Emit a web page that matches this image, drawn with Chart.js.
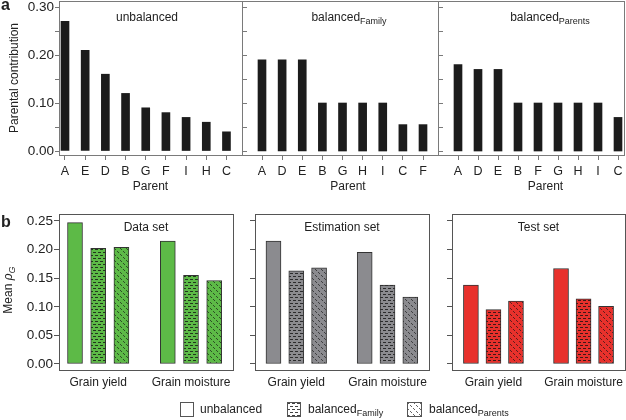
<!DOCTYPE html>
<html>
<head>
<meta charset="utf-8">
<script src="https://cdn.jsdelivr.net/npm/chart.js@4.4.1/dist/chart.umd.min.js"></script>
<style>
  body { margin: 0; background: #fff; width: 626px; height: 420px; overflow: hidden; position: relative;
         font-family: "Liberation Sans", Arial, Helvetica, sans-serif; color: #222; }
  canvas { position: absolute; left: 0; }
  .tag { position: absolute; font-weight: bold; font-size: 16px; line-height: 15px; }
  .ytitle { position: absolute; font-size: 12px; white-space: nowrap; transform: translate(-50%, -50%) rotate(-90deg); }
  .ytitle sub, .legend sub { font-size: 9px; vertical-align: -3px; }
  .legend { position: absolute; font-size: 12px; line-height: 15px; white-space: nowrap; }
  .legend canvas { position: absolute; left: 0; top: 0; }
</style>
</head>
<body>
<canvas id="t1" width="626" height="200" style="top:0"></canvas>
<canvas id="t2" width="626" height="200" style="top:0"></canvas>
<canvas id="t3" width="626" height="200" style="top:0"></canvas>
<canvas id="b1" width="626" height="200" style="top:200px"></canvas>
<canvas id="b2" width="626" height="200" style="top:200px"></canvas>
<canvas id="b3" width="626" height="200" style="top:200px"></canvas>

<div class="tag" style="left:1px;top:-3px">a</div>
<div class="tag" style="left:1px;top:214px">b</div>
<div class="ytitle" style="left:9px;top:290px">Mean <i>ρ</i><sub><i>G</i></sub></div>

<div class="legend" style="left:180px;top:402px"><canvas id="lg1" width="14" height="15"></canvas><span style="margin-left:20px">unbalanced</span></div>
<div class="legend" style="left:287px;top:402px"><canvas id="lg2" width="14" height="15"></canvas><span style="margin-left:21px">balanced<sub>Family</sub></span></div>
<div class="legend" style="left:407px;top:402px"><canvas id="lg3" width="15" height="15"></canvas><span style="margin-left:22px">balanced<sub>Parents</sub></span></div>

<script>
// panel a: parental contributions
const parentsUnbalanced = ["A", "E", "D", "B", "G", "F", "I", "H", "C"];
const contribUnbalanced = [0.27, 0.21, 0.16, 0.12, 0.09, 0.08, 0.07, 0.06, 0.04];
const parentsFamily = ["A", "D", "E", "B", "G", "H", "I", "C", "F"];
const contribFamily = [0.19, 0.19, 0.19, 0.10, 0.10, 0.10, 0.10, 0.055, 0.055];
const parentsParents = ["A", "D", "E", "B", "F", "G", "H", "I", "C"];
const contribParents = [0.18, 0.17, 0.17, 0.10, 0.10, 0.10, 0.10, 0.10, 0.07];
const contribTicks = [0, 0.05, 0.10, 0.15, 0.20, 0.25, 0.30];

// panel b: mean prediction accuracy
const traits = ["Grain yield", "Grain moisture"];
const dataSetUnbalanced = [0.247, 0.215];
const dataSetFamily = [0.202, 0.155];
const dataSetParents = [0.204, 0.146];
const estimationUnbalanced = [0.215, 0.195];
const estimationFamily = [0.163, 0.138];
const estimationParents = [0.168, 0.117];
const testUnbalanced = [0.138, 0.167];
const testFamily = [0.095, 0.114];
const testParents = [0.110, 0.101];
const meanTicks = [0, 0.05, 0.10, 0.15, 0.20, 0.25];

Chart.defaults.font.family = '"Liberation Sans", Arial, Helvetica, sans-serif';
Chart.defaults.color = "#222";

function makePattern(base, kind) {
  const c = document.createElement("canvas");
  const g = c.getContext("2d");
  if (kind === "family") {
    c.width = 5;
    c.height = 6;
    g.fillStyle = base;
    g.fillRect(0, 0, 5, 6);
    g.fillStyle = "rgba(20,20,20,0.8)";
    g.fillRect(0, 1, 3, 1);
    g.fillRect(3, 4, 2, 1);
    g.fillRect(0, 4, 1, 1);
  } else {
    c.width = 6;
    c.height = 6;
    g.fillStyle = base;
    g.fillRect(0, 0, 6, 6);
    g.fillStyle = "rgba(20,20,20,0.65)";
    [0, 1, 3, 4].forEach((i) => g.fillRect(i, i, 1, 1));
  }
  return g.createPattern(c, "repeat");
}

// frame, inner ticks and text labels of a panel
function panelPlugin(cfg) {
  return {
    id: "panel",
    afterDatasetsDraw(chart) {
      const { ctx, chartArea: a } = chart;
      ctx.save();
      ctx.strokeStyle = cfg.frameColor;
      ctx.lineWidth = 1;
      ctx.strokeRect(Math.round(a.left) + 0.5, Math.round(a.top) + 0.5,
        Math.round(a.right - a.left), Math.round(a.bottom - a.top));
      if (cfg.innerTicks) {
        const y = chart.scales.y;
        cfg.innerTicks.forEach((v) => {
          const py = Math.round(y.getPixelForValue(v)) + 0.5;
          ctx.beginPath();
          ctx.moveTo(a.left, py);
          ctx.lineTo(a.left + 5, py);
          ctx.stroke();
        });
      }
      const cx = (a.left + a.right) / 2;
      ctx.fillStyle = "#222";
      ctx.textBaseline = "middle";
      cfg.texts.forEach((t) => {
        ctx.font = '12px "Liberation Sans", Arial, sans-serif';
        const w1 = ctx.measureText(t.text).width;
        let w2 = 0;
        if (t.sub) {
          ctx.font = '9px "Liberation Sans", Arial, sans-serif';
          w2 = ctx.measureText(t.sub).width;
        }
        const x0 = cx + t.dx - (w1 + w2) / 2;
        ctx.font = '12px "Liberation Sans", Arial, sans-serif';
        ctx.textAlign = "left";
        ctx.fillText(t.text, x0, t.y);
        if (t.sub) {
          ctx.font = '9px "Liberation Sans", Arial, sans-serif';
          ctx.fillText(t.sub, x0 + w1, t.y + 4);
        }
      });
      ctx.restore();
    },
  };
}

function contributionChart(id, parents, values, o) {
  return new Chart(document.getElementById(id), {
    type: "bar",
    data: {
      datasets: [{
        data: values.map((v, i) => ({ x: i, y: v })),
        backgroundColor: "#1c1c1c",
        barThickness: 8,
      }],
    },
    options: {
      responsive: false,
      animation: false,
      devicePixelRatio: 1,
      events: [],
      layout: { padding: { left: o.padLeft, right: o.padRight, top: 1, bottom: 0 } },
      plugins: { legend: { display: false }, tooltip: { enabled: false } },
      scales: {
        x: {
          type: "linear",
          min: o.min,
          max: o.max,
          offset: false,
          afterBuildTicks: (ax) => { ax.ticks = parents.map((p, i) => ({ value: i })); },
          afterFit: (ax) => { ax.height = 45; ax.paddingLeft = 0; ax.paddingRight = 0; },
          grid: { offset: false, drawOnChartArea: false, tickLength: 5, color: "#777" },
          border: { display: false },
          ticks: { autoSkip: false, maxRotation: 0, padding: 4, font: { size: 12.5 },
            callback: (v) => parents[v] },
        },
        y: {
          display: o.showY,
          min: -0.0083,
          max: 0.3125,
          afterBuildTicks: (ax) => { ax.ticks = contribTicks.map((v) => ({ value: v })); },
          afterFit: (ax) => { ax.width = o.showY ? 59 : 0; ax.paddingTop = 0; ax.paddingBottom = 0; },
          grid: { drawOnChartArea: false, tickLength: 4, color: "#777" },
          border: { display: false },
          ticks: { padding: 1, font: { size: 13.5 },
            callback: (v) => (Math.round(v * 100) % 10 === 0 ? v.toFixed(2) : "") },
          title: { display: true, text: "Parental contribution", font: { size: 12 },
            padding: { top: 7, bottom: 0 } },
        },
      },
    },
    plugins: [panelPlugin({
      frameColor: "#7a7a7a",
      innerTicks: o.showY ? null : contribTicks,
      texts: [
        { text: o.title, sub: o.sub, dx: o.titleDx, y: 18 },
        { text: "Parent", dx: o.parentDx, y: 187 },
      ],
    })],
  });
}

function predictionChart(id, unb, fam, par, color, o) {
  const series = [unb, fam, par];
  const fills = [color, makePattern(color, "family"), makePattern(color, "parents")];
  const step = series.length + 1;
  return new Chart(document.getElementById(id), {
    type: "bar",
    data: {
      datasets: series.map((vals, s) => ({
        data: vals.map((v, t) => ({ x: t * step + s, y: v })),
        backgroundColor: fills[s],
        borderColor: "#333",
        borderWidth: 1,
        borderSkipped: false,
        barThickness: 15,
        grouped: false,
      })),
    },
    options: {
      responsive: false,
      animation: false,
      devicePixelRatio: 1,
      events: [],
      layout: { padding: { left: 0, right: o.padRight, top: 14, bottom: 0 } },
      plugins: { legend: { display: false }, tooltip: { enabled: false } },
      scales: {
        x: {
          type: "linear",
          min: o.min,
          max: o.max,
          offset: false,
          afterBuildTicks: (ax) => { ax.ticks = traits.map((t, i) => ({ value: i * step + 1 })); },
          afterFit: (ax) => { ax.height = 30; ax.paddingLeft = 0; ax.paddingRight = 0; },
          grid: { display: false, drawTicks: false, offset: false },
          border: { display: false },
          ticks: { autoSkip: false, maxRotation: 0, padding: 5, font: { size: 12 },
            callback: (v) => traits[(v - 1) / step] },
        },
        y: {
          min: -0.0105,
          max: 0.2622,
          afterBuildTicks: (ax) => { ax.ticks = meanTicks.map((v) => ({ value: v })); },
          afterFit: (ax) => { ax.width = o.axisWidth; ax.paddingTop = 0; ax.paddingBottom = 0; },
          grid: { drawOnChartArea: false, tickLength: 5, color: "#555" },
          border: { display: false },
          ticks: { display: o.labels, padding: 1, font: { size: 13.5 }, callback: (v) => v.toFixed(2) },
        },
      },
    },
    plugins: [panelPlugin({
      frameColor: "#555",
      texts: [{ text: o.title, dx: 0, y: 28 }],
    })],
  });
}

contributionChart("t1", parentsUnbalanced, contribUnbalanced,
  { padLeft: 0, padRight: 384, min: -0.297, max: 8.77, showY: true, title: "unbalanced", titleDx: -3.5, parentDx: 0 });
contributionChart("t2", parentsFamily, contribFamily,
  { padLeft: 242, padRight: 188, min: -0.994, max: 8.745, showY: false, title: "balanced", sub: "Family", titleDx: 9, parentDx: 8 });
contributionChart("t3", parentsParents, contribParents,
  { padLeft: 438, padRight: 2, min: -1.0, max: 8.3, showY: false, title: "balanced", sub: "Parents", titleDx: 19, parentDx: 14.5 });

predictionChart("b1", dataSetUnbalanced, dataSetFamily, dataSetParents, "#5dba47",
  { axisWidth: 59, padRight: 393, min: -0.69, max: 6.81, labels: true, title: "Data set" });
predictionChart("b2", estimationUnbalanced, estimationFamily, estimationParents, "#8b8b8f",
  { axisWidth: 255, padRight: 197, min: -0.81, max: 6.82, labels: false, title: "Estimation set" });
predictionChart("b3", testUnbalanced, testFamily, testParents, "#e8312c",
  { axisWidth: 452, padRight: 1, min: -0.84, max: 6.84, labels: false, title: "Test set" });

// legend swatches
[["lg1", null], ["lg2", "family"], ["lg3", "parents"]].forEach(([id, kind]) => {
  const c = document.getElementById(id);
  const g = c.getContext("2d");
  g.fillStyle = kind ? makePattern("#fff", kind) : "#fff";
  g.fillRect(0, 0, c.width, c.height);
  g.strokeStyle = "#555";
  g.strokeRect(0.5, 0.5, c.width - 1, c.height - 1);
});
</script>
</body>
</html>
